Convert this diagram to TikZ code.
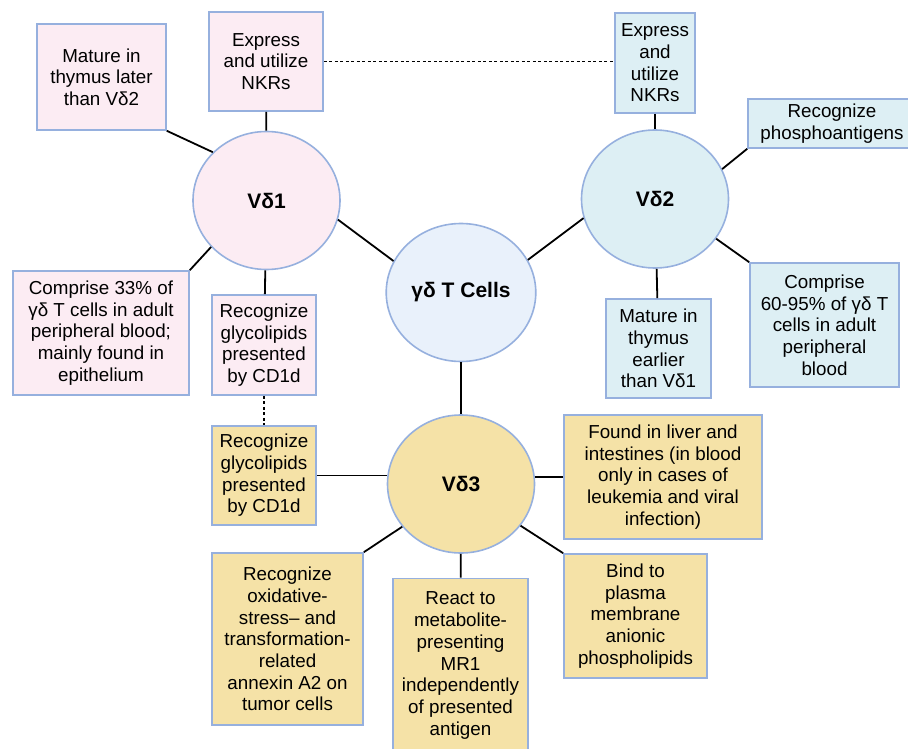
\documentclass[tikz,border=0pt]{standalone}
\usepackage{fontspec}
\setmainfont{Liberation Sans}
\usetikzlibrary{shapes.geometric}
\definecolor{pinkfill}{RGB}{252,236,243}
\definecolor{bluefill}{RGB}{221,239,244}
\definecolor{cellfill}{RGB}{233,241,251}
\definecolor{yellowfill}{RGB}{245,226,167}
\definecolor{rim}{RGB}{150,176,222}
\begin{document}
\begin{tikzpicture}[x=1pt,y=-1pt,
  box/.style={draw=rim, line width=1.6pt, inner sep=2pt, align=center, font=\fontsize{18.8}{21.7}\selectfont},
  cell/.style={ellipse, draw=rim, line width=1.6pt, minimum width=147pt, minimum height=138pt, font=\fontsize{21}{24}\selectfont\bfseries},
  link/.style={line width=1.8pt},
  dots/.style={line width=1.8pt, dash pattern=on 3pt off 2.5pt}]
\clip (0,0) rectangle (908,749);
\useasboundingbox (0,0) rectangle (908,749);
\node[cell, fill=pinkfill] (v1) at (266.5,200.5){Vδ1};
\node[cell, fill=bluefill] (v2) at (655,199){Vδ2};
\node[cell, fill=cellfill] (gd) at (461,292.5){γδ T Cells};
\node[cell, fill=yellowfill] (v3) at (461,484){Vδ3};
\node[box, fill=pinkfill, minimum width=129pt, minimum height=106pt] (m1) at (101.5,77){Mature in\\thymus later\\than Vδ2};
\node[box, fill=pinkfill, minimum width=114pt, minimum height=99pt] (n1) at (266,61.5){Express\\and utilize\\NKRs};
\node[box, fill=pinkfill, minimum width=176pt, minimum height=124pt] (c1) at (101,333){Comprise 33\% of\\γδ T cells in adult\\peripheral blood;\\mainly found in\\epithelium};
\node[box, fill=pinkfill, minimum width=104pt, minimum height=100pt] (g1) at (264,345){Recognize\\glycolipids\\presented\\by CD1d};
\node[box, fill=bluefill, minimum width=80pt, minimum height=100pt] (n2) at (655,63){Express\\and\\utilize\\NKRs};
\node[box, fill=bluefill, minimum width=168pt, minimum height=49pt] (p2) at (832,123.5){Recognize\\phosphoantigens};
\node[box, fill=bluefill, minimum width=149pt, minimum height=124pt] (c2) at (824.5,325){Comprise\\60-95\% of γδ T\\cells in adult\\peripheral\\blood};
\node[box, fill=bluefill, minimum width=105pt, minimum height=99pt] (m2) at (658.5,348.5){Mature in\\thymus\\earlier\\than Vδ1};
\node[box, fill=yellowfill, minimum width=104pt, minimum height=99pt] (g3) at (264,475.5){Recognize\\glycolipids\\presented\\by CD1d};
\node[box, fill=yellowfill, minimum width=198pt, minimum height=124pt] (f3) at (663,477){Found in liver and\\intestines (in blood\\only in cases of\\leukemia and viral\\infection)};
\node[box, fill=yellowfill, minimum width=151pt, minimum height=172pt] (o3) at (287.5,639){Recognize\\oxidative-\\stress-- and\\transformation-\\related\\annexin A2 on\\tumor cells};
\node[box, fill=yellowfill, minimum width=135pt, minimum height=174pt] (r3) at (460.5,665.5){React to\\metabolite-\\presenting\\MR1\\independently\\of presented\\antigen};
\node[box, fill=yellowfill, minimum width=143pt, minimum height=124pt] (b3) at (635.5,616){Bind to\\plasma\\membrane\\anionic\\phospholipids};
\draw[link](m1.south east) -- (v1.138.8);
\draw[link](n1) -- (v1);
\draw[link](c1.north east) -- (v1.220);
\draw[link](v1) -- (g1);
\draw[link](v1.-15.3) -- (gd.155.1);
\draw[dots](n1.east) -- (n1.east -| n2.west);
\draw[link](n2) -- (v2);
\draw[link](gd.26.6) -- (v2.195.5);
\draw[link](v2.24.8) -- (p2.south west);
\draw[link](v2.-33.3) -- (c2.north west);
\draw[link](v2) -- (m2);
\draw[link](gd) -- (v3);
\draw[dots](g1) -- (g3);
\draw[link](g3.east) -- (g3.east -| v3.west);
\draw[link](f3.west) -- (f3.west -| v3.east);
\draw[link](v3.216) -- (o3.north east);
\draw[link](v3) -- (r3);
\draw[link](v3.-35) -- (b3.north west);
\end{tikzpicture}
\end{document}
